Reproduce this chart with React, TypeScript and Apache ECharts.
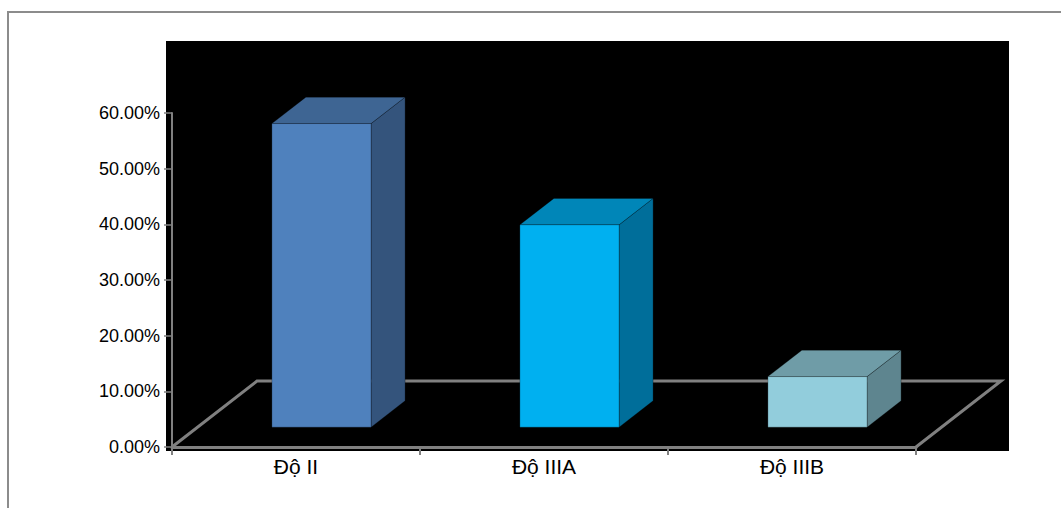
import React, { useEffect, useRef } from "react";
import * as echarts from "echarts";

const categories = ["Độ II", "Độ IIIA", "Độ IIIB"];
const values = [54.55, 36.36, 9.09];
const yTicks = [0, 10, 20, 30, 40, 50, 60];

const frontColors = ["#4F81BD", "#00B0F0", "#92CDDC"];
const topColors = ["#3E6593", "#0086B8", "#6F9CA7"];
const sideColors = ["#34547C", "#006E9A", "#5E858F"];

// 3D projection parameters (pixels)
const DEPTH_DX = 85;
const DEPTH_DY = 66;
const BAR_FRONT = 0.3; // depth fraction of bar front face
const BAR_BACK = 0.7; // depth fraction of bar back face
const BAR_WIDTH_FRAC = 0.4;

export default function App() {
  const ref = useRef<HTMLDivElement>(null);
  useEffect(() => {
    document.body.style.margin = "0";
    const chart = echarts.init(ref.current!, null, { renderer: "svg" });
    const fontFamily = "'Liberation Sans', Arial, sans-serif";
    const gray = "#808080";

    const option: any = {
      animation: false,
      backgroundColor: "#ffffff",
      graphic: [
        {
          type: "rect",
          shape: { x: 8, y: 12, width: 1200, height: 700 },
          style: { fill: "#ffffff", stroke: "#8c8c8c", lineWidth: 2 },
          z: -20,
          silent: true,
        },
        {
          type: "rect",
          shape: { x: 166, y: 41, width: 843, height: 410 },
          style: { fill: "#000000" },
          z: -10,
          silent: true,
        },
      ],
      grid: { left: 172, right: 145, top: 113, bottom: 61, containLabel: false },
      xAxis: {
        type: "category",
        data: categories,
        axisLine: { show: true, lineStyle: { color: gray, width: 3 } },
        axisTick: { show: true, length: 8, lineStyle: { color: gray, width: 2 } },
        axisLabel: { color: "#000", fontSize: 21, fontFamily, margin: 9 },
        z: 3,
      },
      yAxis: {
        type: "value",
        min: 0,
        max: 60,
        interval: 10,
        axisLine: { show: true, lineStyle: { color: gray, width: 2 } },
        axisTick: { show: true, length: 8, lineStyle: { color: gray, width: 1.5 } },
        splitLine: { show: false },
        axisLabel: {
          color: "#000",
          fontSize: 18,
          fontFamily,
          margin: 12,
          formatter: (v: number) => (yTicks.includes(v) ? v.toFixed(2) + "%" : ""),
        },
      },
      series: [
        {
          type: "custom",
          name: "floor",
          data: [[0, 0]],
          z: 1,
          silent: true,
          renderItem: (params: any, api: any) => {
            const bw = api.size([1, 0])[0];
            const p0 = api.coord([0, 0]);
            const p2 = api.coord([categories.length - 1, 0]);
            const xl = p0[0] - bw / 2;
            const xr = p2[0] + bw / 2;
            const y = p0[1];
            return {
              type: "polyline",
              shape: {
                points: [
                  [xl, y],
                  [xl + DEPTH_DX, y - DEPTH_DY],
                  [xr + DEPTH_DX, y - DEPTH_DY],
                  [xr, y],
                ],
              },
              style: { stroke: gray, lineWidth: 3, fill: null },
            };
          },
        },
        {
          type: "custom",
          name: "bars",
          data: values.map((v, i) => [i, v]),
          z: 5,
          renderItem: (params: any, api: any) => {
            const i = api.value(0);
            const v = api.value(1);
            const bw = api.size([1, 0])[0];
            const base = api.coord([i, 0]);
            const top = api.coord([i, v]);
            const w = bw * BAR_WIDTH_FRAC;
            const fdx = DEPTH_DX * BAR_FRONT;
            const fdy = DEPTH_DY * BAR_FRONT;
            const ddx = DEPTH_DX * (BAR_BACK - BAR_FRONT);
            const ddy = DEPTH_DY * (BAR_BACK - BAR_FRONT);
            const x0 = base[0] - w / 2 + fdx;
            const x1 = x0 + w;
            const yb = base[1] - fdy;
            const yt = top[1] - fdy;
            const edge = { stroke: "rgba(0,0,0,0.25)", lineWidth: 1 };
            return {
              type: "group",
              children: [
                {
                  type: "polygon",
                  shape: {
                    points: [
                      [x1, yb],
                      [x1, yt],
                      [x1 + ddx, yt - ddy],
                      [x1 + ddx, yb - ddy],
                    ],
                  },
                  style: { fill: sideColors[i], ...edge },
                },
                {
                  type: "polygon",
                  shape: {
                    points: [
                      [x0, yt],
                      [x1, yt],
                      [x1 + ddx, yt - ddy],
                      [x0 + ddx, yt - ddy],
                    ],
                  },
                  style: { fill: topColors[i], ...edge },
                },
                {
                  type: "rect",
                  shape: { x: x0, y: yt, width: w, height: yb - yt },
                  style: { fill: frontColors[i], ...edge },
                },
              ],
            };
          },
        },
      ],
    };
    chart.setOption(option);
    return () => chart.dispose();
  }, []);
  return <div ref={ref} style={{ width: 1061, height: 508 }} />;
}
